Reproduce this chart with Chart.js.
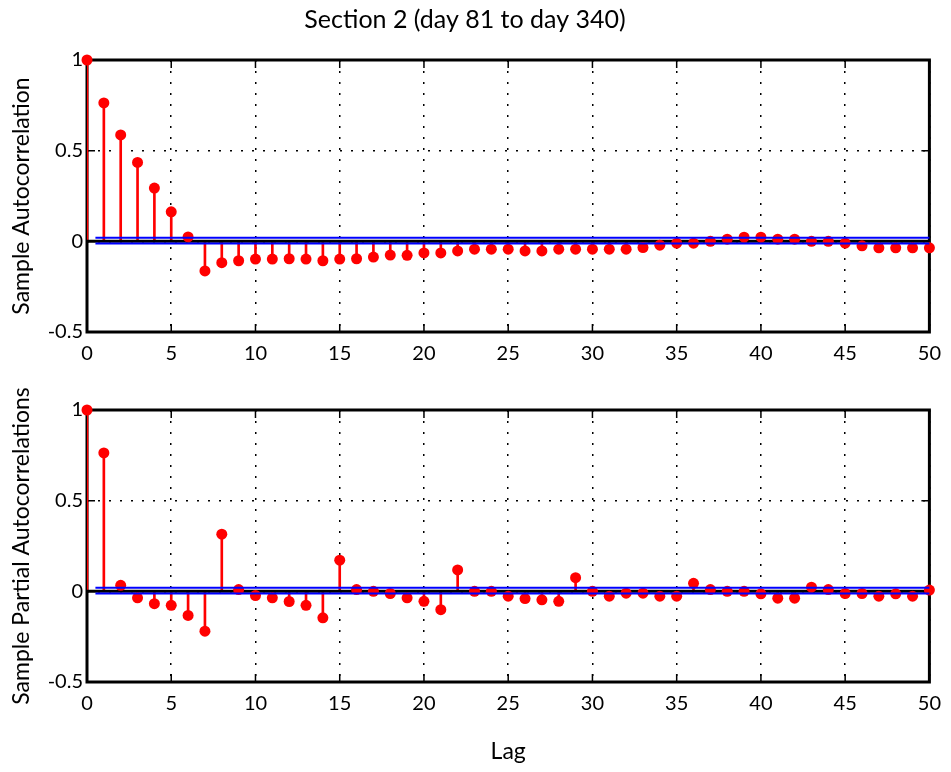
<!DOCTYPE html>
<html>
<head>
<meta charset="utf-8">
<script src="https://cdn.jsdelivr.net/npm/chart.js@4"></script>
<style>
  html, body { margin: 0; padding: 0; background: #fff; }
  #wrap { position: relative; width: 951px; height: 772px; }
  #wrap canvas { position: absolute; left: 0; }
</style>
</head>
<body>
<div id="wrap">
  <canvas id="chartAcf" width="951" height="390" style="top:0"></canvas>
  <canvas id="chartPacf" width="951" height="402" style="top:370px"></canvas>
</div>
<script>
// ── Datos ──
const lags = [0,1,2,3,4,5,6,7,8,9,10,11,12,13,14,15,16,17,18,19,20,21,22,23,24,25,
              26,27,28,29,30,31,32,33,34,35,36,37,38,39,40,41,42,43,44,45,46,47,48,49,50];

const acf = [1, 0.763, 0.587, 0.435, 0.294, 0.163, 0.024, -0.163, -0.118, -0.107,
             -0.098, -0.098, -0.096, -0.098, -0.107, -0.098, -0.096, -0.087, -0.076, -0.077,
             -0.064, -0.064, -0.053, -0.043, -0.043, -0.043, -0.053, -0.053, -0.043, -0.043,
             -0.043, -0.043, -0.043, -0.034, -0.021, -0.010, -0.010, 0, 0.012, 0.023,
             0.023, 0.012, 0.012, 0, 0, -0.010, -0.025, -0.036, -0.036, -0.036, -0.036];

const pacf = [1, 0.763, 0.033, -0.036, -0.068, -0.077, -0.133, -0.220, 0.315, 0.010,
              -0.023, -0.036, -0.056, -0.077, -0.146, 0.172, 0.010, 0, -0.012, -0.036,
              -0.055, -0.101, 0.118, 0, 0, -0.027, -0.040, -0.047, -0.055, 0.075,
              0, -0.027, -0.010, -0.010, -0.027, -0.027, 0.044, 0.010, 0, 0,
              -0.014, -0.038, -0.038, 0.023, 0.010, -0.012, -0.012, -0.027, -0.014, -0.027, 0.007];

const boundUpper = 0.02;
const boundLower = -0.012;
const boundFrom  = 0.5;
const boundTo    = 50;

const xTicks = [0, 5, 10, 15, 20, 25, 30, 35, 40, 45, 50];
const yTicks = [-0.5, 0, 0.5, 1];

const titleFont = { family: 'Lato', size: 23 };
const tickFont  = { family: 'Lato', size: 20 };

// ── Marco con marcas interiores ──
const framePlugin = {
    id: 'frame',
    beforeDatasetsDraw(chart) {
        const { ctx, chartArea: a, scales: { x, y } } = chart;
        ctx.save();
        ctx.strokeStyle = '#000';
        ctx.lineWidth = 1.5;
        ctx.beginPath();
        x.ticks.forEach(t => {
            const px = x.getPixelForValue(t.value);
            ctx.moveTo(px, a.bottom); ctx.lineTo(px, a.bottom - 8);
            ctx.moveTo(px, a.top);    ctx.lineTo(px, a.top + 8);
        });
        y.ticks.forEach(t => {
            const py = y.getPixelForValue(t.value);
            ctx.moveTo(a.left, py);  ctx.lineTo(a.left + 8, py);
            ctx.moveTo(a.right, py); ctx.lineTo(a.right - 8, py);
        });
        ctx.stroke();
        ctx.lineWidth = 3;
        ctx.strokeRect(a.left, a.top, a.right - a.left, a.bottom - a.top);
        ctx.restore();
    }
};

// ── Panel ──
function makePanel(id, values, yTitle, cfg) {
    const pts = lags.map((l, i) => ({ x: l, y: values[i] }));
    return new Chart(document.getElementById(id), {
        type: 'bar',
        data: {
            datasets: [
                {
                    type: 'line',
                    data: [{ x: boundFrom, y: boundUpper }, { x: boundTo, y: boundUpper }],
                    borderColor: '#0000FF', borderWidth: 2, pointRadius: 0, order: 1, clip: false
                },
                {
                    type: 'line',
                    data: [{ x: boundFrom, y: boundLower }, { x: boundTo, y: boundLower }],
                    borderColor: '#0000FF', borderWidth: 2, pointRadius: 0, order: 1, clip: false
                },
                {
                    type: 'scatter',
                    data: pts,
                    backgroundColor: '#FF0000', borderColor: '#FF0000',
                    pointRadius: 5.5, borderWidth: 0, order: 2, clip: false
                },
                {
                    type: 'line',
                    data: [{ x: 0, y: 0 }, { x: 50, y: 0 }],
                    borderColor: '#000', borderWidth: 3, pointRadius: 0, order: 3
                },
                {
                    type: 'bar',
                    data: pts,
                    backgroundColor: '#FF0000',
                    barThickness: 2,
                    order: 4
                }
            ]
        },
        options: {
            animation: false,
            responsive: false,
            layout: { padding: { left: 0, right: 21, top: cfg.padTop, bottom: 0 } },
            plugins: {
                legend: { display: false },
                tooltip: { enabled: false },
                title: cfg.title ? {
                    display: true,
                    text: cfg.title,
                    color: '#000',
                    font: { family: 'Lato', size: 25, weight: 'normal' },
                    padding: { top: 5, bottom: 25 }
                } : { display: false }
            },
            scales: {
                x: {
                    type: 'linear', min: 0, max: 50, offset: false,
                    afterBuildTicks: s => { s.ticks = xTicks.map(v => ({ value: v })); },
                    afterFit: s => { s.height = cfg.xHeight; },
                    grid: { color: '#000', lineWidth: 1.5, drawTicks: false, offset: false },
                    border: { display: false, dash: [2, 9] },
                    ticks: { color: '#000', font: tickFont, padding: 10, maxRotation: 0,
                             callback: v => String(v) },
                    title: cfg.xTitle ? {
                        display: true, text: cfg.xTitle, color: '#000',
                        font: titleFont, padding: { top: 0, bottom: 7 }
                    } : { display: false }
                },
                y: {
                    min: -0.5, max: 1,
                    afterBuildTicks: s => { s.ticks = yTicks.map(v => ({ value: v })); },
                    afterFit: s => { s.width = 87; },
                    grid: { color: '#000', lineWidth: 1.5, drawTicks: false },
                    border: { display: false, dash: [2, 9] },
                    ticks: { color: '#000', font: tickFont, padding: 4,
                             callback: v => String(v) },
                    title: {
                        display: true, text: yTitle, color: '#000',
                        font: titleFont, padding: { top: 8, bottom: 0 }
                    }
                }
            }
        },
        plugins: [framePlugin]
    });
}

// ── Arranque ──
makePanel('chartAcf', acf, 'Sample Autocorrelation',
    { title: 'Section 2 (day 81 to day 340)', padTop: 0, xHeight: 58 });
makePanel('chartPacf', pacf, 'Sample Partial Autocorrelations',
    { padTop: 40, xHeight: 90, xTitle: 'Lag' });
</script>
</body>
</html>
